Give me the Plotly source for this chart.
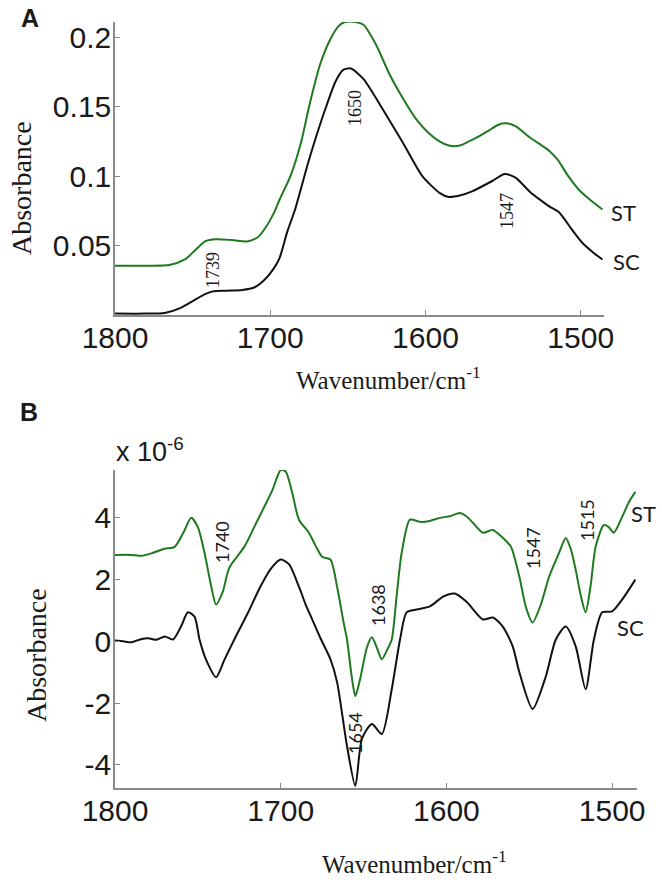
import plotly.graph_objects as go

# ---------------- Panel A data (absorbance) ----------------
a_st_wn = [1800, 1780, 1765, 1755, 1748, 1742, 1735, 1725, 1715, 1708, 1703, 1697, 1694, 1687,
           1680, 1675, 1668, 1662, 1656, 1652, 1645, 1640, 1632, 1623, 1614, 1606, 1598, 1591,
           1585, 1578, 1572, 1565, 1559, 1553, 1548, 1542, 1533, 1525, 1520, 1515, 1508, 1501,
           1494, 1486]
a_st_val = [0.0355, 0.0355, 0.036, 0.040, 0.047, 0.053, 0.0545, 0.054, 0.053, 0.056, 0.063, 0.075,
            0.083, 0.100, 0.125, 0.150, 0.180, 0.197, 0.208, 0.211, 0.211, 0.209, 0.195, 0.173,
            0.155, 0.141, 0.131, 0.125, 0.122, 0.122, 0.125, 0.129, 0.133, 0.137, 0.138, 0.136,
            0.128, 0.122, 0.118, 0.112, 0.100, 0.090, 0.083, 0.076]

a_sc_wn = [1800, 1780, 1768, 1758, 1750, 1742, 1737, 1728, 1718, 1710, 1704, 1698, 1694, 1689,
           1684, 1676, 1670, 1664, 1658, 1653, 1648, 1640, 1634, 1628, 1615, 1602, 1591, 1585,
           1578, 1570, 1557, 1549, 1542, 1533, 1525, 1520, 1514, 1506, 1499, 1492, 1486]
a_sc_val = [0.001, 0.001, 0.0015, 0.005, 0.010, 0.015, 0.017, 0.0175, 0.018, 0.020, 0.025, 0.033,
            0.041, 0.060, 0.076, 0.108, 0.130, 0.150, 0.168, 0.1765, 0.1775, 0.170, 0.160, 0.149,
            0.125, 0.100, 0.088, 0.085, 0.086, 0.089, 0.0965, 0.1015, 0.099, 0.089, 0.082, 0.078,
            0.074, 0.062, 0.052, 0.045, 0.040]

# ---------------- Panel B data (second derivative, x 10^-6) ----------------
b_st_wn = [1800, 1790, 1784, 1778, 1770, 1764, 1758, 1754, 1750, 1746, 1742, 1739, 1735, 1731,
           1722, 1716, 1710, 1705, 1700, 1697, 1693, 1689, 1683, 1679, 1675, 1670, 1666, 1662,
           1660, 1657, 1655, 1652, 1648, 1645, 1642, 1639, 1636, 1633, 1630, 1627, 1622, 1616,
           1610, 1604, 1598, 1592, 1588, 1584, 1578, 1572, 1568, 1564, 1561, 1556, 1552, 1548,
           1543, 1538, 1532, 1528, 1525, 1522, 1519, 1516, 1513, 1510, 1505, 1502, 1499, 1494,
           1490, 1486]
b_st_val = [2.80, 2.80, 2.77, 2.85, 3.00, 3.06, 3.60, 4.00, 3.70, 2.87, 1.80, 1.19, 1.60, 2.39,
            3.06, 3.70, 4.35, 4.90, 5.55, 5.50, 4.80, 3.94, 3.52, 3.10, 2.74, 2.65, 1.77, 0.60,
            0.06, -1.20, -1.77, -1.20, -0.20, 0.13, -0.20, -0.58, -0.30, 0.06, 1.50, 2.87, 3.94,
            3.87, 3.90, 4.00, 4.05, 4.16, 4.05, 3.84, 3.52, 3.61, 3.45, 3.25, 3.06, 2.10, 1.10,
            0.61, 1.20, 2.10, 2.87, 3.35, 3.00, 2.32, 1.50, 0.94, 1.80, 3.06, 3.77, 3.70, 3.52,
            4.03, 4.50, 4.84]

b_sc_wn = [1800, 1795, 1790, 1785, 1780, 1775, 1770, 1765, 1760, 1756, 1752, 1749, 1745, 1739,
           1734, 1728, 1720, 1712, 1706, 1700, 1695, 1689, 1685, 1681, 1676, 1670, 1666, 1660,
           1655, 1651, 1645, 1639, 1633, 1628, 1624, 1618, 1610, 1602, 1595, 1588, 1578, 1572,
           1566, 1560, 1556, 1548, 1540, 1534, 1528, 1522, 1516, 1511, 1506, 1500, 1494, 1486]
b_sc_val = [0.03, 0.00, -0.03, 0.06, 0.10, 0.05, 0.16, 0.06, 0.50, 0.94, 0.80, 0.06, -0.60, -1.16,
            -0.60, 0.06, 0.90, 1.80, 2.35, 2.65, 2.50, 1.77, 1.20, 0.71, 0.10, -0.58, -1.32, -3.39,
            -4.68, -3.16, -2.68, -3.00, -1.55, 0.06, 0.94, 1.03, 1.13, 1.45, 1.55, 1.29, 0.71, 0.77,
            0.48, -0.16, -1.00, -2.19, -1.13, 0.06, 0.48, -0.16, -1.55, 0.06, 0.94, 0.97, 1.35, 2.00]

x_ticks = [1800, 1700, 1600, 1500]
a_yticks = [0.05, 0.1, 0.15, 0.2]
a_yticktext = ["0.05", "0.1", "0.15", "0.2"]
b_yticks = [-4, -2, 0, 2, 4]
b_yticktext = ["-4", "-2", "0", "2", "4"]

GREEN = "#1f7a1f"
BLACK = "#111111"
W, H = 662, 882

fig = go.Figure()
line_kw = dict(shape="spline", smoothing=0.7, width=2)
fig.add_trace(go.Scatter(x=a_st_wn, y=a_st_val, mode="lines", line=dict(color=GREEN, **line_kw),
                         xaxis="x", yaxis="y", showlegend=False))
fig.add_trace(go.Scatter(x=a_sc_wn, y=a_sc_val, mode="lines", line=dict(color=BLACK, **line_kw),
                         xaxis="x", yaxis="y", showlegend=False))
fig.add_trace(go.Scatter(x=b_st_wn, y=b_st_val, mode="lines", line=dict(color=GREEN, **line_kw),
                         xaxis="x2", yaxis="y2", showlegend=False))
fig.add_trace(go.Scatter(x=b_sc_wn, y=b_sc_val, mode="lines", line=dict(color=BLACK, **line_kw),
                         xaxis="x2", yaxis="y2", showlegend=False))

def px(x):
    return x / W

def py(y):
    return 1 - y / H

tickfont = dict(family="Liberation Sans, Arial", size=30, color="#1a1a1a")
axis_common = dict(showline=True, linecolor="#8a8a8a", linewidth=1.5, ticks="inside",
                   ticklen=5, tickcolor="#8a8a8a", tickwidth=1, showgrid=False, zeroline=False,
                   tickfont=tickfont, mirror=False, automargin=False)

fig.update_layout(
    template="none",
    width=W, height=H, margin=dict(l=0, r=0, t=0, b=0, pad=0),
    paper_bgcolor="white", plot_bgcolor="white",
    xaxis=dict(domain=[px(115), px(604)], range=[1800, 1485], anchor="y",
               tickvals=x_ticks, ticklabelstandoff=-5, **axis_common),
    yaxis=dict(domain=[py(315), py(22)], range=[0, 0.211], anchor="x",
               tickvals=a_yticks, ticktext=a_yticktext, ticklabelstandoff=-4, **axis_common),
    xaxis2=dict(domain=[px(115), px(637)], range=[1800, 1485], anchor="y2",
                tickvals=x_ticks, ticklabelstandoff=-5, **axis_common),
    yaxis2=dict(domain=[py(788), py(470)], range=[-4.75, 5.55], anchor="x2",
                tickvals=b_yticks, ticktext=b_yticktext, ticklabelstandoff=-4, **axis_common),
)

serif = "Liberation Serif, Times New Roman"
sans = "Lato, Open Sans, sans-serif"
ann = []

def add(text, x, y, size, family, angle=0, color="#1a1a1a", bold=False):
    t = f"<b>{text}</b>" if bold else text
    ann.append(dict(text=t, x=px(x), y=py(y), xref="paper", yref="paper", showarrow=False,
                    textangle=angle, font=dict(family=family, size=size, color=color),
                    xanchor="center", yanchor="middle"))

# panel letters
add("A", 30, 18, 25, "Liberation Sans, Arial", bold=True)
add("B", 29, 412, 25, "Liberation Sans, Arial", bold=True)

# axis titles
add("Absorbance", 22, 188, 28, serif, angle=-90)
add("Wavenumber/cm<sup>-1</sup>", 388, 378, 25, serif)
add("Absorbance", 36, 655, 28, serif, angle=-90)
add("Wavenumber/cm<sup>-1</sup>", 414, 862, 25, serif)
add("x 10<sup>-6</sup>", 150, 450, 27, "Liberation Sans, Arial")

# panel A labels
add("1739", 213, 270, 18, serif, angle=-90)
add("1650", 355, 108, 18, serif, angle=-90)
add("1547", 507, 211, 18, serif, angle=-90)
add("ST", 623, 213, 22, sans)
add("SC", 626, 262, 22, sans)

# panel B labels
add("1740", 222, 542, 18, sans, angle=-90)
add("1638", 378, 605, 18, sans, angle=-90)
add("1654", 355, 733, 18, sans, angle=-90)
add("1547", 533, 548, 18, sans, angle=-90)
add("1515", 587, 520, 18, sans, angle=-90)
add("ST", 643, 513, 22, sans)
add("SC", 630, 627, 22, sans)

fig.update_layout(annotations=ann)
fig.write_html("out.html", config={"displayModeBar": False},
               post_script="document.body.style.margin='0';document.body.style.overflow='hidden';")
